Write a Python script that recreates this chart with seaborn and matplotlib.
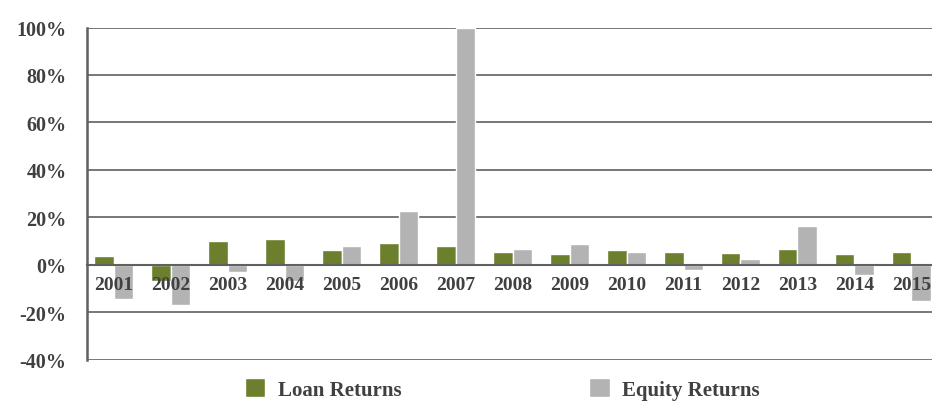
import pandas as pd
import numpy as np
import matplotlib.pyplot as plt
import matplotlib.ticker as mticker
import seaborn as sns

# values (percent)
years = ['2001', '2002', '2003', '2004', '2005', '2006', '2007', '2008',
         '2009', '2010', '2011', '2012', '2013', '2014', '2015']
loan_returns = [3.8, -6.9, 10.1, 10.7, 6.3, 9.2, 8.0, 5.5,
                4.6, 6.2, 5.6, 4.9, 6.5, 4.4, 5.2]
equity_returns = [-14.5, -16.9, -3.2, -6.8, 8.0, 22.7, 100.0, 6.5,
                  8.6, 5.5, -2.4, 2.3, 16.2, -4.1, -15.2]
series_names = ['Loan Returns', 'Equity Returns']
colors = ['#6b7f2d', '#b2b3b2']

df = pd.DataFrame({
    'Year': years * 2,
    'Return': loan_returns + equity_returns,
    'Series': [series_names[0]] * len(years) + [series_names[1]] * len(years),
})

sns.set_style('white')
plt.rcParams['font.family'] = ['Liberation Serif', 'DejaVu Serif']
plt.rcParams['font.weight'] = 'bold'

text_color = '#404040'
line_color = '#606060'

fig = plt.figure(figsize=(9.32, 4.02), dpi=100)
ax = fig.add_axes([0.0937, 0.1027, 0.9063, 0.8264])

sns.barplot(data=df, x='Year', y='Return', hue='Series', palette=colors,
            width=0.68, saturation=1, ax=ax, legend=True)

ax.set_ylim(-40, 100)
ax.set_xlim(-0.46, 14.36)
yticks = np.arange(-40, 101, 20)
ax.set_yticks(yticks)
ax.yaxis.set_major_formatter(mticker.FuncFormatter(lambda v, p: f'{v:.0f}%'))

# gridlines under the bars, axis (and year labels) over them
for v in yticks:
    ax.axhline(v, color=line_color, linewidth=1.2, zorder=0)
ax.set_axisbelow(False)

# x axis drawn along the zero line
for s in ['top', 'right']:
    ax.spines[s].set_visible(False)
ax.spines['bottom'].set_position(('data', 0))
ax.spines['bottom'].set_color(line_color)
ax.spines['bottom'].set_linewidth(1.5)
ax.spines['left'].set_color(line_color)
ax.spines['left'].set_linewidth(1.8)

ax.set_xticks(np.arange(0.5, 14.5, 1), minor=True)
ax.tick_params(axis='x', which='major', length=0, pad=8,
               labelsize=14, labelcolor=text_color)
ax.tick_params(axis='x', which='minor', direction='inout', length=6,
               width=1.5, color=line_color)
ax.tick_params(axis='y', length=6, width=1.5, color=line_color, pad=9,
               labelsize=14.5, labelcolor=text_color)
ax.set_xlabel('')
ax.set_ylabel('')

leg = ax.legend(loc='center', bbox_to_anchor=(0.539, 0.03),
                bbox_transform=fig.transFigure, ncol=2, frameon=False,
                handlelength=1.0, handleheight=1.0, handletextpad=0.6,
                columnspacing=9.0, prop={'size': 15, 'weight': 'bold'})
for t in leg.get_texts():
    t.set_color(text_color)

plt.savefig('out.png', dpi=100)
